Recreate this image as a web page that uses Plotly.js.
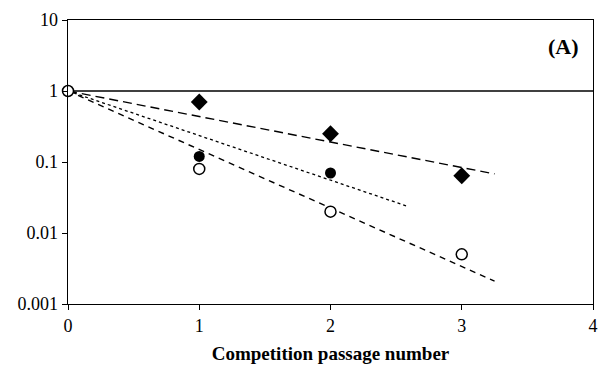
<!DOCTYPE html>
<html><head><meta charset="utf-8">
<script src="https://cdn.plot.ly/plotly-3.0.1.min.js"></script>
<style>html,body{margin:0;padding:0;background:#fff}</style>
</head><body>
<div id="chart" style="width:603px;height:365px"></div>
<script>
// Data
const diamondX = [1, 2, 3];
const diamondVals = [0.70, 0.25, 0.064];
const filledCircleX = [1, 2];
const filledCircleVals = [0.12, 0.07];
const openCircleX = [0, 1, 2, 3];
const openCircleVals = [1, 0.08, 0.02, 0.005];

// Trend lines (endpoints)
const trendLongX = [0, 3.25];
const trendLongY = [1, 0.068];
const trendDotX = [0, 2.58];
const trendDotY = [1, 0.024];
const trendShortX = [0, 3.25];
const trendShortY = [1, 0.0021];

const refLineX = [0, 4];
const refLineY = [1, 1];

const yTickVals = [0.001, 0.01, 0.1, 1, 10];
const yTickText = ["0.001", "0.01", "0.1", "1", "10"];
const xTickVals = [0, 1, 2, 3, 4];

const FONT = 'Liberation Serif';

const traces = [
  {x: refLineX, y: refLineY, mode: 'lines', line: {color: '#000', width: 1.4}},
  {x: trendLongX, y: trendLongY, mode: 'lines', line: {color: '#000', width: 1.4, dash: '9px,5px'}},
  {x: trendDotX, y: trendDotY, mode: 'lines', line: {color: '#000', width: 1.3, dash: 'dot'}},
  {x: trendShortX, y: trendShortY, mode: 'lines', line: {color: '#000', width: 1.4, dash: '6px,5px'}},
  {x: diamondX, y: diamondVals, mode: 'markers', marker: {symbol: 'diamond', size: 13, color: '#000'}},
  {x: filledCircleX, y: filledCircleVals, mode: 'markers', marker: {symbol: 'circle', size: 11, color: '#000'}},
  {x: openCircleX, y: openCircleVals, mode: 'markers', cliponaxis: false, marker: {symbol: 'circle', size: 11, color: '#fff', line: {color: '#000', width: 1.5}}}
];

const layout = {
  width: 603, height: 365,
  margin: {l: 68, r: 10, t: 20, b: 61},
  paper_bgcolor: '#fff', plot_bgcolor: '#fff',
  showlegend: false,
  font: {family: FONT, color: '#000', size: 18},
  xaxis: {
    range: [0, 4], tickvals: xTickVals, ticks: 'outside', ticklen: 5, tickcolor: '#000',
    showline: true, linecolor: '#000', linewidth: 1.4, mirror: true, showgrid: false, zeroline: false,
    tickfont: {family: FONT, size: 18},
    title: {text: '<b>Competition passage number</b>', font: {family: FONT, size: 19}, standoff: 11}
  },
  yaxis: {
    type: 'log', range: [-3, 1], tickvals: yTickVals, ticktext: yTickText,
    ticks: 'outside', ticklen: 5, tickcolor: '#000',
    showline: true, linecolor: '#000', linewidth: 1.4, mirror: true, showgrid: false, zeroline: false,
    tickfont: {family: FONT, size: 18}
  },
  annotations: [{
    x: 0.977, y: 0.908, xref: 'paper', yref: 'paper', xanchor: 'right', yanchor: 'middle',
    text: '<b>(A)</b>', showarrow: false, font: {family: FONT, size: 22}
  }]
};

Plotly.newPlot('chart', traces, layout, {staticPlot: true});
</script>
</body></html>
